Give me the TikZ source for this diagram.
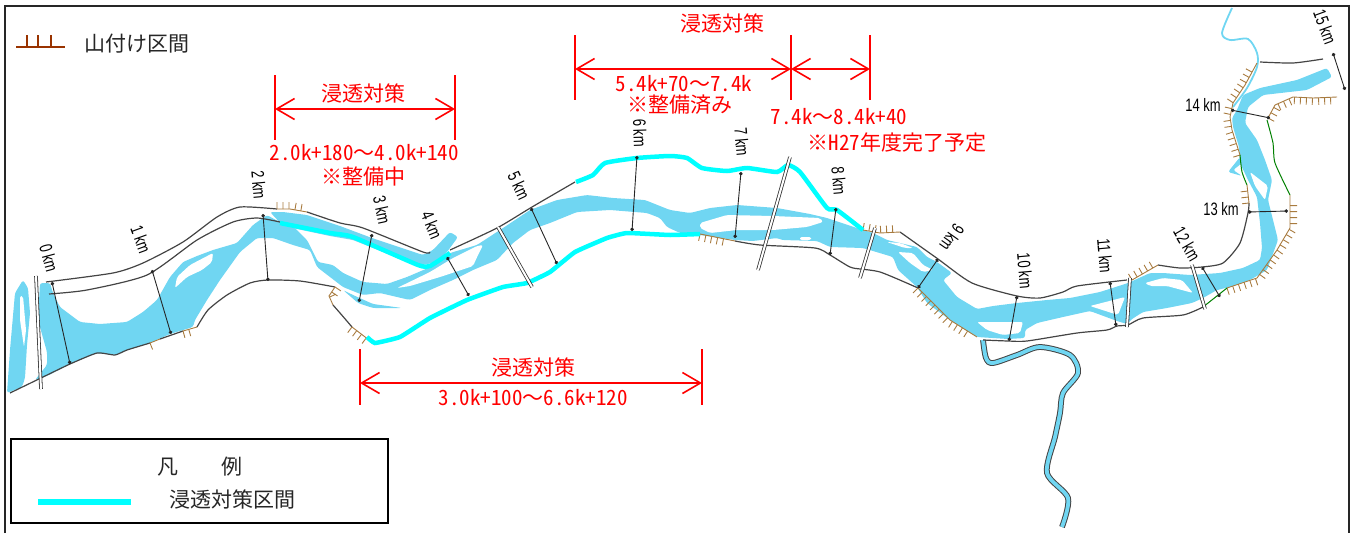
\documentclass[tikz,border=0pt]{standalone}
\usepackage{fontspec}
\setmainfont{Noto Sans CJK JP}
\newfontfamily\jpfont[RawFeature=+hwid]{Noto Sans CJK JP}
\newfontfamily\wavefont{Noto Sans CJK JP}
\newfontfamily\kmfont[FakeStretch=0.72]{Liberation Sans}
\newcommand{\wavedash}{{\wavefont ～}}
\usetikzlibrary{arrows.meta,decorations.pathreplacing}
\definecolor{riverblue}{HTML}{70D6F2}
\definecolor{seepcyan}{HTML}{00FFFF}
\definecolor{bankgray}{HTML}{444444}
\definecolor{dykebrown}{HTML}{A87B3F}
\definecolor{legendbrown}{HTML}{993300}
\tikzset{
    water/.style={fill=riverblue,draw=none,rounded corners=2.5pt},
    island/.style={fill=white,draw=none,rounded corners=2pt},
    bank/.style={draw=bankgray,line width=1.2pt},
    greenbank/.style={draw=green!50!black,line width=1pt},
    seepage/.style={draw=seepcyan,line width=4.5pt},
    dyke/.style={draw=dykebrown,line width=.9pt,postaction={decorate,draw=dykebrown,line width=.9pt,
        decoration={border,segment length=6pt,amplitude=7pt,angle=#1}}},
    dyke/.default=90,
    kmline/.style={line width=.9pt,black!85,{Circle[length=3.5pt]}-{Circle[length=3.5pt]}},
    kmlabel/.style={font=\kmfont\fontsize{18}{18}\selectfont,inner sep=0pt},
    breakmark/.style={draw=black!80,line width=.8pt,double=white,double distance=2pt},
    tributary/.style={draw=bankgray,line width=1pt,double=riverblue,double distance=3.8pt},
    redbar/.style={red,line width=2pt},
    redarrow/.style={red,line width=2pt,{Straight Barb[length=18pt,width=21pt,line width=1.6pt]}-{Straight Barb[length=18pt,width=21pt,line width=1.6pt]}},
    redtext/.style={text=red,inner sep=0pt,font=\jpfont\fontsize{21}{21}\selectfont},
    blacktext/.style={text=black!85,inner sep=0pt,font=\jpfont\fontsize{21}{21}\selectfont},
}
\begin{document}
\begin{tikzpicture}[x=1pt,y=-1pt]
    \useasboundingbox (0,0) rectangle (1354,533);
    \draw[line width=2pt,black!85] (5,533) -- (5,6) -- (1349,6) -- (1349,533);

    % 本川の水面
    \fill[water] (7,393) -- (10,350) -- (15,293) -- (23,280) -- (28,288) -- (30,313) -- (27,345) -- (25,378) -- (22,387) -- cycle;
    \fill[water] (40,283) -- (50,283) -- (53,293) -- (60,307) -- (80,322) -- (100,324) -- (127,322) -- (143,312) -- (157,300)
        -- (170,277) -- (183,262) -- (197,256) -- (213,250) -- (237,243) -- (253,225) -- (267,215) -- (283,224) -- (295,228)
        -- (307,240) -- (318,262) -- (333,265) -- (343,273) -- (363,282) -- (387,284) -- (407,277) -- (428,268) -- (450,253)
        -- (477,245) -- (503,228) -- (530,210) -- (557,200) -- (587,195) -- (613,198) -- (645,200) -- (670,210) -- (690,213)
        -- (710,208) -- (737,205) -- (777,208) -- (810,214) -- (827,218) -- (863,230) -- (873,233) -- (887,240) -- (917,247)
        -- (927,257) -- (937,262) -- (952,273) -- (943,280) -- (957,297) -- (977,309) -- (993,306) -- (1017,303) -- (1047,300)
        -- (1070,298) -- (1100,292) -- (1128,283) -- (1150,273) -- (1163,273) -- (1190,275) -- (1220,273) -- (1243,268)
        -- (1260,260) -- (1262,248) -- (1260,223) -- (1257,197) -- (1248,180) -- (1240,163) -- (1239,147) -- (1233,127)
        -- (1232,118) -- (1237,110) -- (1243,95) -- (1260,88) -- (1297,80) -- (1327,68) -- (1332,77) -- (1307,90) -- (1263,95)
        -- (1248,107) -- (1245,123) -- (1257,140) -- (1265,160) -- (1272,180) -- (1268,200) -- (1273,220) -- (1278,240)
        -- (1267,270) -- (1250,280) -- (1230,287) -- (1217,290) -- (1203,298) -- (1192,303) -- (1167,308) -- (1143,312)
        -- (1132,319) -- (1127,324) -- (1117,321) -- (1090,311) -- (1063,317) -- (1037,323) -- (1025,330) -- (1025,338)
        -- (1008,339) -- (977,337) -- (950,320) -- (927,303) -- (917,287) -- (898,270) -- (893,257) -- (863,248) -- (830,247)
        -- (817,241) -- (782,240) -- (777,238) -- (753,241) -- (735,240) -- (700,235) -- (680,233) -- (667,227) -- (660,218)
        -- (647,213) -- (610,210) -- (577,212) -- (550,223) -- (530,230) -- (513,243) -- (497,260) -- (473,270) -- (453,280)
        -- (430,290) -- (410,300) -- (397,297) -- (380,293) -- (363,295) -- (343,287) -- (330,277) -- (317,267) -- (310,250)
        -- (293,245) -- (273,238) -- (257,238) -- (240,252) -- (220,280) -- (207,300) -- (195,320) -- (193,327) -- (170,334)
        -- (150,343) -- (127,350) -- (115,355) -- (97,353) -- (70,364) -- (47,376) -- (35,380) -- (47,365) -- (47,352) -- (38,320) -- cycle;
    \fill[water] (270,212) -- (283,212) -- (307,215) -- (340,226) -- (372,238) -- (423,255) -- (433,250) -- (450,232) -- (458,237)
        -- (447,252) -- (437,262) -- (418,266) -- (353,240) -- (330,236) -- (283,226) -- cycle;
    \fill[water] (343,290) -- (358,303) -- (373,308) -- (402,308) -- (373,304) -- (353,295) -- cycle;
    \fill[water] (1228,172) -- (1240,157) -- (1241,164) -- (1233,170) -- (1242,176) -- cycle;
    % 中州
    \fill[island] (20,296) -- (23,296) -- (26,330) -- (24,347) -- (20,320) -- cycle;
    \fill[island] (175,288) -- (177,277) -- (190,265) -- (213,253) -- (212,262) -- (202,270) -- (187,277) -- cycle;
    \fill[island] (397,288) -- (430,272) -- (453,258) -- (477,246) -- (483,245) -- (478,255) -- (473,266) -- (440,277) -- (410,286) -- cycle;
    \fill[island] (700,223) -- (727,215) -- (773,216) -- (820,218) -- (823,222) -- (807,227) -- (773,230) -- (737,230) -- (710,233) -- (700,228) -- cycle;
    \fill[island] (800,237) -- (811,237) -- (811,240) -- (800,240) -- cycle;
    \fill[island] (887,242) -- (900,243) -- (913,248) -- (905,248) -- cycle;
    \fill[island] (898,252) -- (913,253) -- (923,265) -- (933,270) -- (923,272) -- (910,263) -- cycle;
    \fill[island] (977,322) -- (1007,322) -- (1023,322) -- (1020,333) -- (1003,335) -- (987,330) -- cycle;
    \fill[island] (1090,306) -- (1125,297) -- (1118,315) -- cycle;
    \fill[island] (1145,283) -- (1163,278) -- (1182,280) -- (1193,293) -- (1167,286) -- (1150,286) -- cycle;
    \fill[island] (1250,172) -- (1268,186) -- (1265,200) -- (1255,186) -- cycle;

    % 支川
    \draw[tributary] plot[smooth,tension=.5] coordinates {(983,340) (986,358) (993,363) (1017,355) (1040,347) (1070,355)
        (1078,373) (1063,393) (1060,413) (1055,437) (1047,473) (1068,498) (1062,527)};
    \draw[riverblue,line width=1.8pt] plot[smooth,tension=.5] coordinates {(1232,8) (1222,33) (1230,40) (1248,39) (1257,53)
        (1257,67) (1247,88) (1233,107)};

    % 堤防線
    \draw[bank] plot[smooth,tension=.4] coordinates {(46,282) (113,273) (143,263) (183,242) (217,217) (240,207) (277,209)};
    \draw[bank] plot[smooth,tension=.4] coordinates {(49,294) (87,290) (147,275) (197,240) (233,222) (257,218) (280,222)};
    \draw[bank] plot[smooth,tension=.4] coordinates {(307,212) (340,223) (363,228) (423,252) (430,252)};
    \draw[bank] plot[smooth,tension=.4] coordinates {(450,250) (497,228) (532,207) (575,182)};
    \draw[bank] plot[smooth,tension=.4] coordinates {(900,232) (938,259) (972,283) (1017,296) (1040,298) (1063,292) (1077,286) (1127,280)};
    \draw[bank] plot[smooth,tension=.4] coordinates {(1158,265) (1180,268) (1202,267) (1223,263) (1240,243) (1248,213) (1249,203)};
    \draw[bank] plot[smooth,tension=.4] coordinates {(1260,62) (1293,63) (1323,59)};
    \draw[bank] plot[smooth,tension=.3] coordinates {(10,393) (43,377) (70,364) (97,353) (115,355) (127,350) (150,343)};
    \draw[bank] (160,339) -- (183,331);
    \draw[bank] plot[smooth,tension=.4] coordinates {(197,327) (208,310) (227,295) (250,283) (268,280) (300,281) (335,287)};
    \draw[bank] plot[smooth,tension=.4] coordinates {(333,305) (340,313) (352,327)};
    \draw[bank] plot[smooth,tension=.4] coordinates {(735,241) (760,245) (815,248) (830,255) (843,263) (853,268) (880,272) (918,288)};
    \draw[bank] plot[smooth,tension=.4] coordinates {(983,340) (1008,341) (1027,341) (1077,333) (1107,330) (1117,326) (1128,325) (1143,318) (1183,315) (1203,307)};

    % 山付け区間
    \draw[dyke] (277,209) -- (290,209) -- (307,212);
    \draw[dyke=-90] (150,343) -- (160,339);
    \draw[dyke=-90] (183,331) -- (197,327);
    \draw[dyke] (335,287) -- (329,296) -- (333,305);
    \draw[dyke=-90] (352,327) -- (373,343);
    \draw[dyke=-90] (700,234) -- (735,241);
    \draw[dyke] (863,230) -- (880,233) -- (900,232);
    \draw[dyke=-90] (918,288) -- (950,320) -- (977,337);
    \draw[dyke] (1132,280) -- (1158,265);
    \draw[dyke=-90] (1227,288) -- (1257,278) -- (1277,250) -- (1290,228) -- (1290,195);
    \draw[dyke] (1249,203) -- (1247,185);
    \draw[dyke] (1240,155) -- (1232,130) -- (1230,117) -- (1233,103) -- (1245,85) -- (1257,63);
    \draw[dyke=-90] (1268,118) -- (1275,105) -- (1293,97) -- (1313,98) -- (1337,97);
    \draw[greenbank] plot[smooth,tension=.4] coordinates {(1240,155) (1242,172) (1247,185)};
    \draw[greenbank] plot[smooth,tension=.4] coordinates {(1267,120) (1273,143) (1275,163) (1290,195)};
    \draw[greenbank] (1203,307) -- (1227,288);

    % 浸透対策区間
    \draw[seepage] plot[smooth,tension=.3] coordinates {(280,223) (330,233) (353,237) (418,265) (430,266) (450,253)};
    \draw[seepage] plot[smooth,tension=.3] coordinates {(576,182) (593,175) (605,163) (637,158) (670,156) (687,158) (702,168)
        (727,171) (747,168) (777,172) (788,165) (800,172) (827,208) (837,210) (863,230)};
    \draw[seepage] plot[smooth,tension=.2] coordinates {(367,337) (375,343) (400,337) (430,318) (467,300) (503,287) (527,283)
        (550,272) (575,252) (607,238) (627,233) (670,235) (700,234)};

    % 距離標
    \foreach \kid/\xa/\ya/\xb/\yb/\lx/\ly/\lrot in {
        0/52/282/70/364/49/258/-75, 1/152/270/171/334/141/239/-70, 2/263/214/268/281/259/185/-85,
        3/372/234/359/302/382/210/-78, 4/447/257/469/296/432/225/-68, 5/531/208/557/264/519/186/-65,
        6/637/156/632/231/640/133/-88, 7/741/172/735/238/742/142/-85, 8/836/208/830/255/839/181/-85,
        9/938/259/918/288/952/238/-125, 10/1017/296/1009/341/1025/271/-85, 11/1110/282/1116/326/1105/256/-85,
        12/1202/267/1220/297/1187/244/-60, 13/1248/212/1288/211/1221/209/0, 14/1231/110/1270/118/1203/105/0,
        15/1333/53/1345/90/1325/27/-70}
    {
        \coordinate (kmstart\kid) at (\xa,\ya);
        \coordinate (kmend\kid) at (\xb,\yb);
        \draw[kmline] (kmstart\kid) -- (kmend\kid);
        \node[kmlabel,rotate=\lrot] (kmtext\kid) at (\lx,\ly) {\kid\ km};
    }

    % 二重線
    \foreach \bid/\xa/\ya/\xb/\yb in {a/36/276/41/389, b/498/227/532/287, c/790/157/758/270, d/875/228/860/278, e/1130/278/1127/327, f/1192/265/1205/309}
    {
        \coordinate (breakstart\bid) at (\xa,\ya);
        \coordinate (breakend\bid) at (\xb,\yb);
        \draw[breakmark] (breakstart\bid) -- (breakend\bid);
    }

    % 寸法線
    \foreach \did/\dx/\dy/\dh in {a/275/75/140, b/455/75/140, c/575/35/100, d/791/35/100, e/870/35/100, f/360/349/405, g/702/349/405}
    {
        \coordinate (bartop\did) at (\dx,\dy);
        \coordinate (barbot\did) at (\dx,\dh);
        \draw[redbar] (bartop\did) -- (barbot\did);
    }
    \coordinate (arrowa) at (275,109);
    \coordinate (arrowb) at (455,109);
    \coordinate (arrowc) at (575,69);
    \coordinate (arrowd) at (791,69);
    \coordinate (arrowe) at (870,69);
    \coordinate (arrowf) at (360,383);
    \coordinate (arrowg) at (702,383);
    \draw[redarrow] (arrowa) -- (arrowb);
    \draw[redarrow] (arrowc) -- (arrowd);
    \draw[redarrow] (arrowd) -- (arrowe);
    \draw[redarrow] (arrowf) -- (arrowg);

    \node[redtext] (labela) at (363,93) {浸透対策};
    \node[redtext] (rangea) at (364,153) {2.0k+180\wavedash 4.0k+140};
    \node[redtext] (notea) at (363,177) {※整備中};
    \node[redtext] (labelb) at (722,23) {浸透対策};
    \node[redtext] (rangeb) at (684,84) {5.4k+70\wavedash 7.4k};
    \node[redtext] (noteb) at (680,105) {※整備済み};
    \node[redtext] (rangec) at (839,117) {7.4k\wavedash 8.4k+40};
    \node[redtext] (notec) at (897,143) {※H27年度完了予定};
    \node[redtext] (labeld) at (533,367) {浸透対策};
    \node[redtext] (ranged) at (533,398) {3.0k+100\wavedash 6.6k+120};

    % 凡例
    \coordinate (hillstart) at (16,47);
    \coordinate (hillend) at (65,47);
    \draw[legendbrown,line width=1.3pt] (hillstart) -- (hillend);
    \foreach \hx in {27,38,51}
        \draw[legendbrown,line width=1.3pt] (\hx,35) -- (\hx,47);
    \node[blacktext] (hilltext) at (137,44) {山付け区間};
    \node[draw=black,line width=2pt,minimum width=377pt,minimum height=84pt,inner sep=0pt] (legendbox) at (199.5,481) {};
    \node[blacktext] (legendfan) at (168,467) {凡};
    \node[blacktext] (legendrei) at (232,467) {例};
    \coordinate (legendstart) at (38,502);
    \coordinate (legendend) at (131,502);
    \draw[seepage,line width=6pt] (legendstart) -- (legendend);
    \node[blacktext] (legendtext) at (232,499) {浸透対策区間};
\end{tikzpicture}
\end{document}
